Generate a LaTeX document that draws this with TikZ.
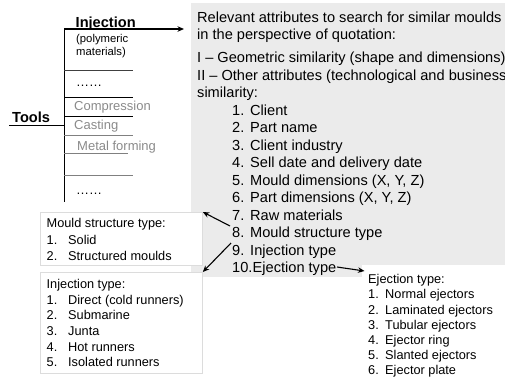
\documentclass[tikz,border=0pt]{standalone}
\usepackage{fontspec}
\setmainfont{Liberation Sans}
\usetikzlibrary{arrows.meta}
\definecolor{panelgray}{HTML}{EBEBEB}
\definecolor{fadegray}{HTML}{8A8A8A}
\definecolor{boxedge}{HTML}{DCDCDC}
\definecolor{lightline}{HTML}{808080}
\begin{document}
\begin{tikzpicture}[x=1bp,y=-1bp,
  bigtxt/.style={font=\fontsize{14.6bp}{17.5bp}\selectfont, inner sep=0, anchor=base west},
  boldtxt/.style={bigtxt, font=\fontsize{14.6bp}{17.5bp}\selectfont\bfseries},
  midtxt/.style={font=\fontsize{13bp}{15.5bp}\selectfont, inner sep=0, anchor=base west},
  fadetxt/.style={midtxt, text=fadegray},
  smalltxt/.style={font=\fontsize{11.3bp}{13bp}\selectfont, inner sep=0, anchor=base west},
  listtxt/.style={font=\fontsize{12.75bp}{15.5bp}\selectfont, inner sep=0, anchor=base west},
  treeline/.style={line width=0.9bp},
  arr/.style={line width=1.1bp, -{Stealth[length=6.5bp,width=5.5bp]}},
  sidebox/.style={draw=boxedge, line width=0.8bp, fill=white, anchor=north west, inner sep=0}
]
\useasboundingbox (0,0) rectangle (505,381);

% gray panel
\fill[panelgray] (191,3) rectangle (510,277);

% tree
\coordinate (top) at (64,29);
\coordinate (bottom) at (64,202);
\coordinate (toolsend) at (9,125);
\coordinate (toolsjoin) at (64,125);
\coordinate (panelin) at (184,29);
\draw[treeline] (top) -- (bottom);
\draw[treeline] (toolsend) -- (toolsjoin);
\draw[treeline, black!75] (64,70) -- (133,70);
\draw[treeline] (64,97) -- (133,97);
\draw[treeline] (64,116) -- (133,116);
\draw[treeline, lightline] (64,135) -- (133,135);
\draw[treeline, lightline] (64,153) -- (128,153);
\draw[treeline, lightline] (64,175) -- (133,175);
\draw[arr, line width=1.3bp] (top) -- (panelin);

\node[boldtxt] (inj) at (75.5,27) {Injection};
\node[smalltxt] (poly1) at (76,42.5) {(polymeric};
\node[smalltxt] (poly2) at (76,55.5) {materials)};
\node[midtxt] (dots1) at (76,86) {……};
\node[fadetxt] (comp) at (74,110.5) {Compression};
\node[fadetxt] (cast) at (74,129.5) {Casting};
\node[fadetxt] (metal) at (77,150.5) {Metal forming};
\node[midtxt] (dots2) at (76,194) {……};
\node[boldtxt] (tools) at (12,122) {Tools};

% panel text
\node[bigtxt] (g1) at (197,22.2) {Relevant attributes to search for similar moulds};
\node[bigtxt] (g2) at (197,39.7) {in the perspective of quotation:};
\node[bigtxt] (g3) at (197,62.7) {I – Geometric similarity (shape and dimensions)};
\node[bigtxt] (g4) at (197,80.2) {II – Other attributes (technological and business};
\node[bigtxt] (g5) at (197,97.7) {similarity:};
\foreach \i/\t in {1/Client,2/Part name,3/Client industry,4/Sell date and delivery date,5/{Mould dimensions (X, Y, Z)},6/{Part dimensions (X, Y, Z)},7/Raw materials,8/Mould structure type,9/Injection type}{
  \node[bigtxt] (n\i) at (232,{115.2+17.5*(\i-1)}) {\i.};
  \node[bigtxt] (t\i) at (250,{115.2+17.5*(\i-1)}) {\t};
}
\node[bigtxt] (n10) at (232,272.7) {10.};
\node[bigtxt] (t10) at (252.5,272.7) {Ejection type};

% side boxes
\node[sidebox, minimum width=162bp, minimum height=53bp] (mould) at (40,212) {};
\node[listtxt] (m0) at (46.5,227.6) {Mould structure type:};
\node[listtxt] (m1n) at (46.5,244.6) {1.};
\node[listtxt] (m1) at (68,244.6) {Solid};
\node[listtxt] (m2n) at (46.5,260.6) {2.};
\node[listtxt] (m2) at (68,260.6) {Structured moulds};

\node[sidebox, minimum width=162bp, minimum height=101bp] (injbox) at (40,272) {};
\node[listtxt] (i0) at (46.5,288.6) {Injection type:};
\foreach \i/\t in {1/Direct (cold runners),2/Submarine,3/Junta,4/Hot runners,5/Isolated runners}{
  \node[listtxt] (i\i n) at (46.5,{288.6+15.6*\i}) {\i.};
  \node[listtxt] (i\i) at (68,{288.6+15.6*\i}) {\t};
}

\fill[white] (362,265) rectangle (510,385);
\coordinate (ejbox) at (364.5,271);
\node[listtxt] (e0) at (368,283.6) {Ejection type:};
\foreach \i/\t in {1/Normal ejectors,2/Laminated ejectors,3/Tubular ejectors,4/Ejector ring,5/Slanted ejectors,6/Ejector plate}{
  \node[listtxt] (e\i n) at (368,{283.6+15.2*\i}) {\i.};
  \node[listtxt] (e\i) at (385,{283.6+15.2*\i}) {\t};
}

% arrows
\coordinate (s8) at (230,226);
\coordinate (s9) at (231,243);
\coordinate (s10) at (337,267);
\draw[arr] (s8) -- (mould.north east);
\draw[arr] (s9) -- (injbox.north east);
\draw[arr] (s10) -- (ejbox);
\end{tikzpicture}
\end{document}
